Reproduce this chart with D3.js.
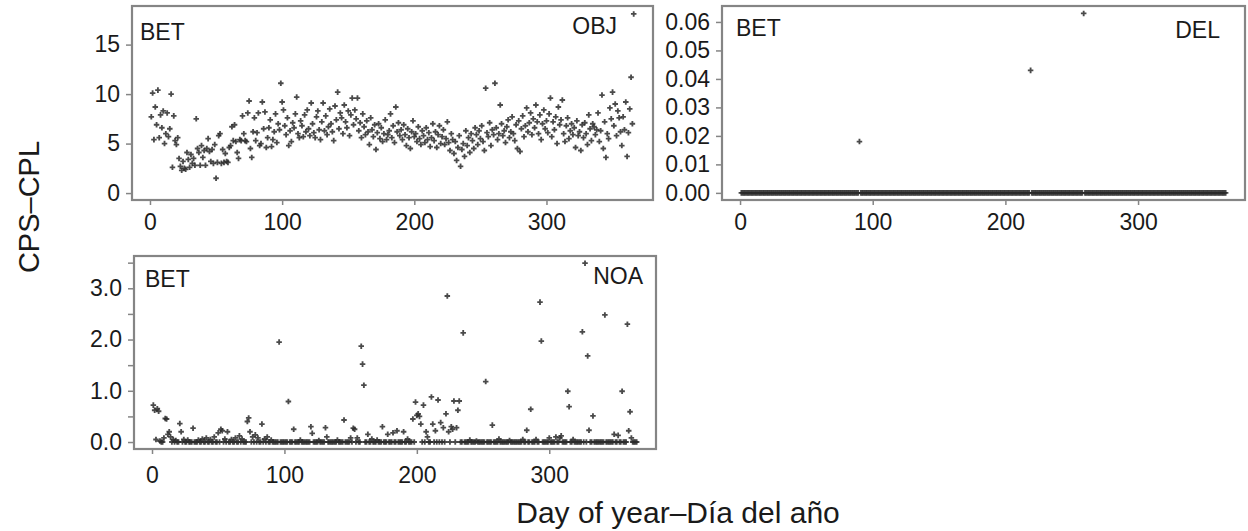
<!DOCTYPE html>
<html>
<head>
<meta charset="utf-8">
<script src="https://cdn.jsdelivr.net/npm/d3@7"></script>
<style>
  body { margin: 0; background: #fff; }
  text { font-family: "Liberation Sans", Arial, sans-serif; fill: #1a1a1a; }
</style>
</head>
<body>
<script>
// ---- Data ----
// OBJ: one value per day, day 1..366
const objValues = [
  7.7, 10.1, 5.4, 8.7, 6.9, 10.4, 5.6, 7.9, 6.6, 8.3,
  5.0, 6.0, 8.1, 5.7, 6.5, 10.0, 2.6, 7.8, 5.3, 4.9,
  5.6, 3.5, 2.7, 2.3, 3.2, 2.5, 2.4, 4.1, 3.4, 2.6,
  3.9, 3.0, 3.5, 2.8, 7.5, 4.5, 4.1, 2.8, 4.8, 3.6,
  4.3, 2.8, 4.5, 5.5, 4.2, 3.2, 4.4, 3.0, 4.9, 1.5,
  3.1, 5.8, 6.0, 3.0, 4.4, 3.1, 4.0, 3.2, 3.1, 4.6,
  4.8, 6.7, 5.3, 6.9, 5.2, 4.1, 3.5, 5.4, 5.3, 7.8,
  6.0, 5.3, 5.2, 8.1, 9.3, 4.5, 3.6, 6.2, 7.6, 5.3,
  6.1, 8.1, 4.8, 5.0, 9.2, 6.5, 8.2, 4.6, 5.6, 6.6,
  7.4, 4.7, 5.4, 6.2, 8.0, 5.1, 7.0, 6.4, 11.1, 9.2,
  8.4, 6.8, 5.9, 7.6, 4.8, 6.3, 5.2, 7.1, 6.6, 8.0,
  9.7, 6.0, 5.6, 7.3, 6.8, 5.7, 7.9, 6.2, 8.4, 6.5,
  5.8, 9.1, 7.0, 6.1, 5.6, 7.7, 8.3, 6.4, 5.4, 7.2,
  9.1, 6.3, 7.8, 5.9, 6.7, 8.5, 7.0, 6.2, 5.3, 8.8,
  7.4, 10.2, 6.5, 8.1, 7.6, 6.0, 8.9, 7.2, 6.6, 8.3,
  5.8, 7.9, 9.6, 6.9, 8.4, 7.5, 9.6, 6.3, 7.1, 5.6,
  8.0, 6.7, 5.9, 7.3, 6.2, 4.9, 7.6, 6.4, 5.7, 6.9,
  4.4, 6.1, 7.0, 5.5, 6.6, 5.2, 6.0, 7.4, 5.4, 5.9,
  6.3, 8.0, 5.6, 6.8, 5.1, 8.7, 6.2, 7.1, 5.8, 6.4,
  5.4, 6.9, 5.9, 4.8, 6.5, 5.6, 4.5, 6.2, 7.3, 5.7,
  6.0, 5.2, 6.7, 5.5, 4.9, 6.3, 5.8, 5.1, 6.6, 5.4,
  6.1, 4.7, 5.6, 7.0, 5.3, 6.2, 4.6, 5.9, 6.8, 5.0,
  5.7, 6.4, 4.9, 5.5, 7.2, 5.1, 4.3, 6.0, 5.4, 4.0,
  5.2, 3.3, 4.6, 5.8, 2.7, 4.4, 5.0, 3.7, 6.3, 4.8,
  5.6, 4.1, 6.0, 5.3, 4.5, 6.6, 5.9, 4.9, 6.3, 5.5,
  6.8, 5.2, 4.3, 10.6, 6.1, 5.7, 7.1, 4.8, 6.4, 5.9,
  11.1, 6.6, 5.4, 6.0, 8.9, 7.0, 5.8, 6.3, 5.1, 6.7,
  7.4, 5.6, 6.2, 7.7, 6.0, 5.3, 6.9, 4.5, 7.3, 4.2,
  6.5, 7.8, 5.7, 6.8, 8.6, 6.2, 7.1, 8.1, 5.9, 7.5,
  6.6, 8.9, 7.2, 6.0, 7.9, 5.4, 7.0, 8.4, 6.5, 7.3,
  6.1, 8.0, 9.6, 5.7, 7.2, 6.4, 7.7, 5.0, 8.7, 6.9,
  7.4, 9.4, 6.0, 5.2, 6.8, 7.6, 5.5, 6.3, 7.0, 5.9,
  6.6, 4.6, 7.3, 5.8, 6.2, 4.3, 6.9, 5.6, 7.1, 6.0,
  4.9, 7.9, 6.5, 5.3, 7.0, 6.7, 5.9, 6.4, 8.1, 5.2,
  6.3, 9.9, 4.5, 7.2, 3.6, 6.0, 5.5, 8.6, 7.5, 10.2,
  6.8, 9.0, 5.8, 8.3, 7.6, 6.2, 4.8, 7.7, 6.4, 9.2,
  3.7, 6.1, 8.5, 11.7, 7.0, 18.1
];

// DEL: 0.00 on every day except these
const delDays   = [90, 219, 259];
const delValues = [0.018, 0.043, 0.063];

// NOA: 0.0 on every day except these
const noaDays = [
  1, 2, 3, 4, 5, 6, 9, 10, 11, 12, 13, 14, 16, 18, 21, 22, 24, 27, 31, 35,
  38, 41, 44, 47, 50, 52, 53, 55, 57, 60, 63, 66, 68, 72, 73, 74, 76, 78, 80, 83,
  85, 87, 90, 96, 103, 107, 112, 120, 121, 126, 131, 132, 140, 145, 150, 152, 153, 155, 158, 159,
  160, 163, 166, 170, 174, 178, 182, 185, 190, 193, 197, 199, 200, 201, 202, 203, 205, 207, 208, 211,
  212, 214, 216, 218, 220, 222, 223, 224, 226, 227, 228, 230, 231, 232, 235, 240, 245, 252, 257, 262,
  270, 280, 283, 286, 290, 293, 294, 300, 305, 308, 309, 314, 315, 318, 325, 327, 329, 330, 333, 342,
  349, 352, 355, 359, 360, 361, 362
];
const noaValues = [
  0.72, 0.62, 0.05, 0.65, 0.60, 0.02, 0.08, 0.46, 0.45, 0.15, 0.20, 0.10, 0.05, 0.03, 0.36, 0.20, 0.05, 0.04, 0.27, 0.04,
  0.06, 0.08, 0.05, 0.10, 0.18, 0.25, 0.22, 0.06, 0.20, 0.05, 0.08, 0.12, 0.06, 0.40, 0.47, 0.20, 0.10, 0.14, 0.08, 0.35,
  0.06, 0.10, 0.04, 1.95, 0.79, 0.25, 0.04, 0.30, 0.17, 0.03, 0.28, 0.10, 0.04, 0.43, 0.08, 0.27, 0.25, 0.08, 1.87, 1.52,
  1.11, 0.15, 0.06, 0.04, 0.30, 0.15, 0.18, 0.22, 0.20, 0.06, 0.45, 0.78, 0.52, 0.55, 0.50, 0.35, 0.72, 0.20, 0.10, 0.88,
  0.35, 0.22, 0.82, 0.38, 0.28, 0.55, 2.85, 0.20, 0.30, 0.25, 0.80, 0.28, 0.62, 0.80, 2.13, 0.04, 0.02, 1.18, 0.33, 0.06,
  0.03, 0.05, 0.23, 0.64, 0.05, 2.73, 1.97, 0.08, 0.10, 0.08, 0.12, 0.99, 0.69, 0.05, 2.15, 3.49, 1.68, 0.23, 0.51, 2.48,
  0.15, 0.13, 0.99, 2.30, 0.22, 0.59, 0.08
];

const xTicks = [0, 100, 200, 300];
const objTicks = [0, 5, 10, 15];
const delTicks = [0, 0.01, 0.02, 0.03, 0.04, 0.05, 0.06];
const noaTicks = [0, 0.5, 1, 1.5, 2, 2.5, 3, 3.5];

const nDays = objValues.length;
const dayIndex = d3.range(1, nDays + 1);

const objSeries = objValues.map((v, i) => ({ day: i + 1, value: v }));
const delMap = new Map(delDays.map((d, i) => [d, delValues[i]]));
const delSeries = dayIndex.map(d => ({ day: d, value: delMap.get(d) || 0 }));
const noaMap = new Map(noaDays.map((d, i) => [d, noaValues[i]]));
const noaSeries = dayIndex.map(d => ({ day: d, value: noaMap.get(d) || 0 }));

// ---- SVG ----
const W = 1248, H = 531;
const svg = d3.select("body").append("svg")
    .attr("width", W)
    .attr("height", H);

const boxColor = "#858585";
const pointColor = "#2a2a2a";
const tickFont = "23px";

const sym = d3.symbol().type(d3.symbolCross).size(17);

function panel(p) {
  const x = d3.scaleLinear().domain([-13.6, 380.6]).range([p.left, p.right]);
  const y = d3.scaleLinear().domain(p.yDomain).range([p.bottom, p.top]);

  const g = svg.append("g");

  // points
  g.append("g").selectAll("path")
    .data(p.data)
    .join("path")
      .attr("d", sym)
      .attr("transform", d => "translate(" + x(d.day) + "," + y(d.value) + ")")
      .attr("fill", pointColor)
      .attr("opacity", 0.85);

  // box
  g.append("rect")
    .attr("x", p.left)
    .attr("y", p.top)
    .attr("width", p.right - p.left)
    .attr("height", p.bottom - p.top)
    .attr("fill", "none")
    .attr("stroke", boxColor)
    .attr("stroke-width", 2.2);

  // y axis
  const ya = g.append("g")
    .attr("transform", "translate(" + (p.left - 1) + ",0)")
    .call(d3.axisLeft(y).tickValues(p.yTicks).tickSize(5).tickPadding(6).tickFormat(p.yFormat));
  ya.select(".domain").remove();
  ya.selectAll("line").attr("stroke", boxColor).attr("stroke-width", 1.5);
  ya.selectAll("text").attr("font-size", tickFont).attr("font-family", null).attr("fill", "#1a1a1a");

  // x axis
  const xa = g.append("g")
    .attr("transform", "translate(0," + (p.bottom + 1) + ")")
    .call(d3.axisBottom(x).tickValues(xTicks).tickSize(4).tickPadding(p.xPad));
  xa.select(".domain").remove();
  xa.selectAll("line").attr("stroke", boxColor).attr("stroke-width", 1.5);
  xa.selectAll("text").attr("font-size", tickFont).attr("font-family", null).attr("fill", "#1a1a1a");

  // panel labels
  g.append("text")
    .attr("x", p.left + p.labelL[0])
    .attr("y", p.top + p.labelL[1])
    .attr("font-size", "23px")
    .text("BET");
  g.append("text")
    .attr("x", p.right - p.labelR[0])
    .attr("y", p.top + p.labelR[1])
    .attr("text-anchor", "end")
    .attr("font-size", "23px")
    .text(p.name);
}

panel({
  name: "OBJ", data: objSeries,
  left: 132, right: 653, top: 6, bottom: 200,
  yDomain: [-0.7, 18.9], yTicks: objTicks, yFormat: d3.format("d"),
  xPad: 9, labelL: [8, 34], labelR: [36, 28]
});

panel({
  name: "DEL", data: delSeries,
  left: 722, right: 1245, top: 6, bottom: 200,
  yDomain: [-0.0025, 0.0656], yTicks: delTicks, yFormat: d3.format(".2f"),
  xPad: 9, labelL: [14, 30], labelR: [25, 32]
});

panel({
  name: "NOA", data: noaSeries,
  left: 134, right: 656, top: 256, bottom: 449,
  yDomain: [-0.136, 3.63], yTicks: noaTicks,
  yFormat: d => (d % 1 === 0 ? d3.format(".1f")(d) : ""),
  xPad: 13, labelL: [11, 31], labelR: [13, 28]
});

// axis titles
svg.append("text")
  .attr("transform", "translate(39,207) rotate(-90)")
  .attr("text-anchor", "middle")
  .attr("font-size", "29px")
  .text("CPS\u2013CPL");

svg.append("text")
  .attr("x", 678)
  .attr("y", 523)
  .attr("text-anchor", "middle")
  .attr("font-size", "30px")
  .text("Day of year\u2013D\u00eda del a\u00f1o");
</script>
</body>
</html>
